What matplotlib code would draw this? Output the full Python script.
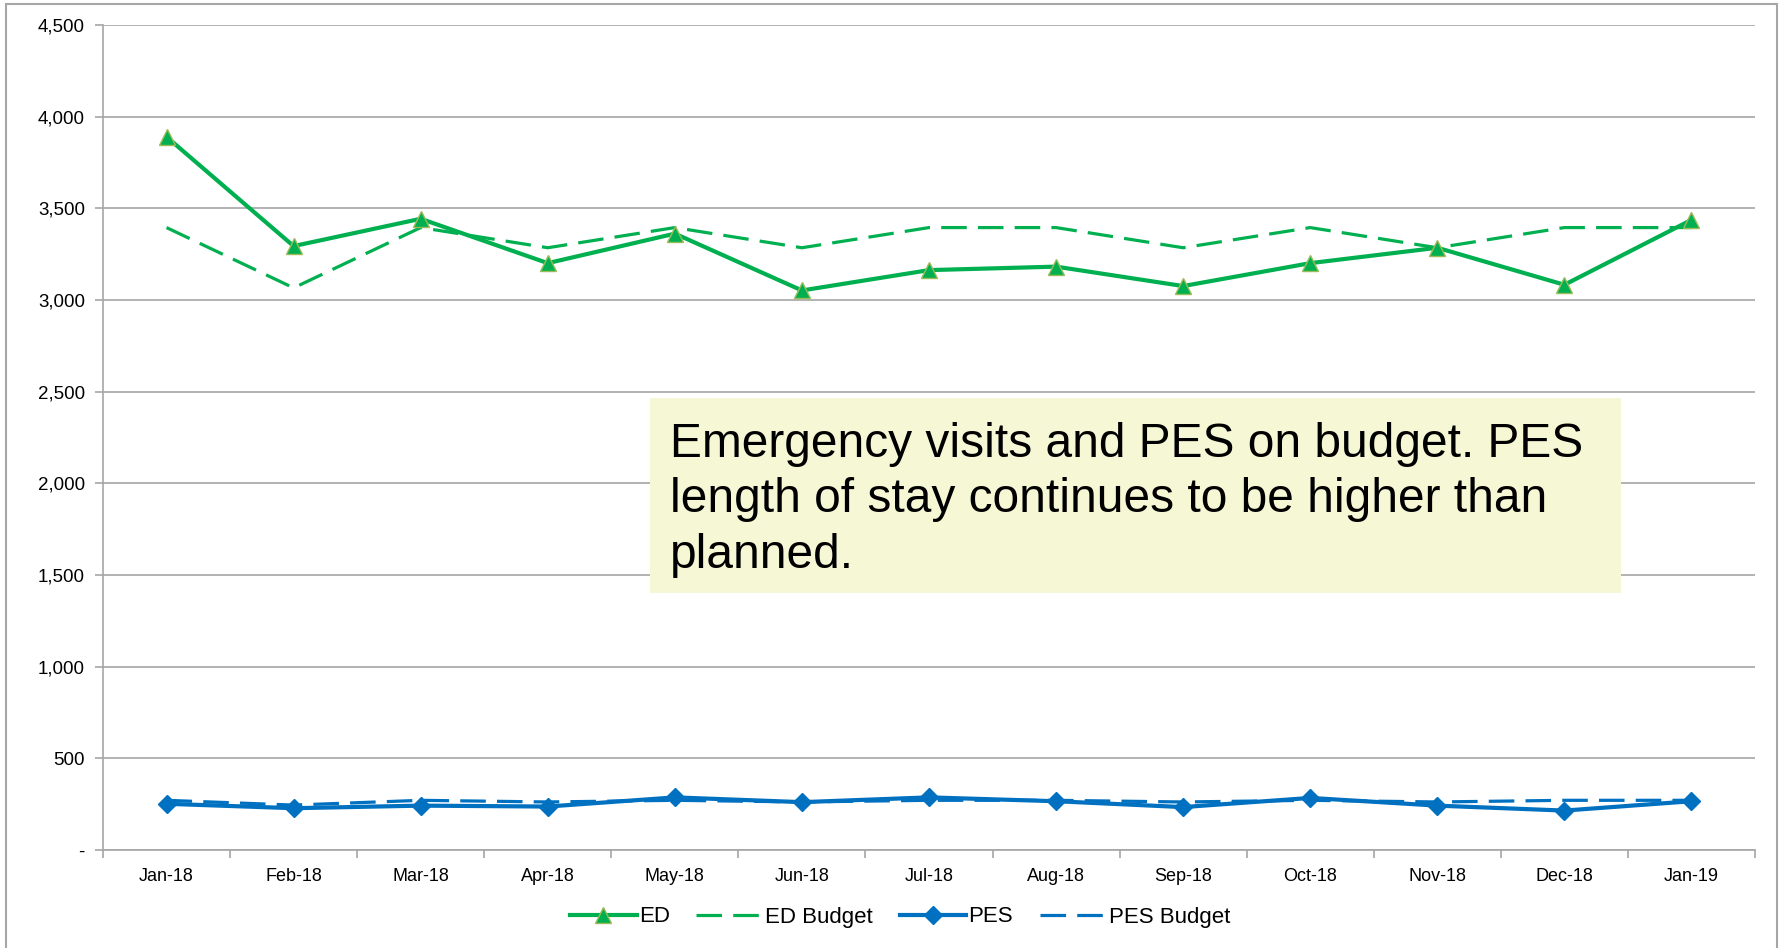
import numpy as np
import matplotlib.pyplot as plt
from matplotlib.patches import Rectangle
from matplotlib.ticker import FuncFormatter

months = ["Jan-18", "Feb-18", "Mar-18", "Apr-18", "May-18", "Jun-18", "Jul-18",
          "Aug-18", "Sep-18", "Oct-18", "Nov-18", "Dec-18", "Jan-19"]
ed = [3890, 3294, 3443, 3201, 3362, 3052, 3163, 3182, 3076, 3201, 3285, 3083, 3437]
ed_budget = [3395, 3066, 3395, 3285, 3395, 3285, 3395, 3395, 3285, 3395, 3285, 3395, 3395]
pes = [252, 228, 242, 237, 287, 261, 287, 266, 234, 284, 242, 215, 266]
pes_budget = [271, 245, 271, 262, 271, 262, 271, 271, 262, 271, 262, 271, 271]

green = "#00B050"
blue = "#0070C0"
grid_c = "#A6A6A6"

plt.rcParams["font.family"] = ["Liberation Sans", "DejaVu Sans"]

fig = plt.figure(figsize=(17.87, 9.48), dpi=100)
ax = fig.add_axes([103/1787, 1 - 850/948, (1755 - 103)/1787, (850 - 25)/948])

x = np.arange(len(months))
ax.plot(x, ed, color=green, lw=3.0, marker="^", ms=11, mfc=green, mec="#9BBB59", mew=1,
        label="ED", zorder=4)
ax.plot(x, ed_budget, color=green, lw=2.3, ls=(0, (8, 3.5)), label="ED Budget", zorder=3)
ax.plot(x, pes, color=blue, lw=3.0, marker="D", ms=9, mfc=blue, mec=blue,
        label="PES", zorder=4)
ax.plot(x, pes_budget, color=blue, lw=2.3, ls=(0, (8, 3.5)), label="PES Budget", zorder=3)

ax.set_xlim(-0.5, len(months) - 0.5)
ax.set_ylim(0, 4500)
ax.set_yticks(np.arange(0, 4501, 500))
ax.yaxis.set_major_formatter(FuncFormatter(lambda v, p: "-" if v == 0 else f"{int(v):,}"))
ax.set_xticks(x)
ax.set_xticklabels(months)
ax.set_xticks(np.arange(-0.5, len(months), 1), minor=True)
ax.tick_params(axis="x", which="major", length=0, pad=13, labelsize=13)
ax.tick_params(axis="x", which="minor", length=6, color=grid_c, width=1.2)
ax.tick_params(axis="y", length=6, color=grid_c, width=1.2, pad=7, labelsize=13.5)

ax.grid(axis="y", color=grid_c, lw=1.2)
ax.set_axisbelow(True)
for s in ["top", "right"]:
    ax.spines[s].set_visible(False)
for s in ["left", "bottom"]:
    ax.spines[s].set_color(grid_c)
    ax.spines[s].set_linewidth(1.2)

leg = ax.legend(loc="center", bbox_to_anchor=(900/1787, 1 - 917/948), bbox_transform=fig.transFigure,
                ncol=4, frameon=False, fontsize=16, handlelength=3.0, columnspacing=1.2,
                handletextpad=0.1)

# annotation box
fig.patches.append(Rectangle((650/1787, 1 - 593/948), (1621 - 650)/1787, (593 - 398)/948,
                             transform=fig.transFigure, facecolor="#F6F8D5", edgecolor="none", zorder=5))
fig.text(670/1787, 1 - 500/948,
         "Emergency visits and PES on budget. PES\nlength of stay continues to be higher than\nplanned.",
         fontsize=34.5, va="center", ha="left", linespacing=1.3, zorder=6)

# outer frame
fig.patches.append(Rectangle((6/1787, -0.05), (1777 - 6)/1787, 1.05 - 4/948,
                             transform=fig.transFigure, facecolor="none", edgecolor=grid_c, lw=1.5))

fig.savefig("out.png", dpi=100)
